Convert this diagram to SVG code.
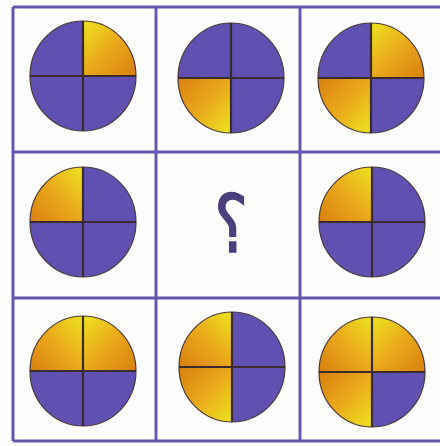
<svg xmlns="http://www.w3.org/2000/svg" width="440" height="446" viewBox="0 0 440 446">
<defs>
<style>
.grid{stroke:#6656ae;stroke-width:3;fill:none}
.p{fill:#5f50b2}
.div{stroke:#3a2c2c;stroke-width:2.2}
.rim{fill:none;stroke:#4a3a3a;stroke-width:1.2}
.q{font-family:"DejaVu Sans",sans-serif;font-weight:normal;fill:#4b3f7c;stroke:#4b3f7c;stroke-width:1.5}
</style>
<linearGradient id="gTR" x1="0" y1="0" x2="1" y2="1"><stop offset="0" stop-color="#ece41e"/><stop offset="0.5" stop-color="#eaa81c"/><stop offset="1" stop-color="#d8800e"/></linearGradient>
<linearGradient id="gTL" x1="1" y1="0" x2="0" y2="1"><stop offset="0" stop-color="#ece41e"/><stop offset="0.5" stop-color="#eaa81c"/><stop offset="1" stop-color="#d8800e"/></linearGradient>
<linearGradient id="gBL" x1="1" y1="1" x2="0" y2="0"><stop offset="0" stop-color="#ece41e"/><stop offset="0.5" stop-color="#eaa81c"/><stop offset="1" stop-color="#d8800e"/></linearGradient>
<linearGradient id="gBR" x1="0" y1="1" x2="1" y2="0"><stop offset="0" stop-color="#ece41e"/><stop offset="0.5" stop-color="#eaa81c"/><stop offset="1" stop-color="#d8800e"/></linearGradient>
<path id="qTL" d="M0,0 L-53,0 A53,55 0 0 1 0,-55 Z"/>
<path id="qTR" d="M0,0 L0,-55 A53,55 0 0 1 53,0 Z"/>
<path id="qBR" d="M0,0 L53,0 A53,55 0 0 1 0,55 Z"/>
<path id="qBL" d="M0,0 L0,55 A53,55 0 0 1 -53,0 Z"/>
<g id="frame">
<ellipse class="rim" cx="0" cy="0" rx="53" ry="55"/>
<line class="div" x1="-53" y1="0" x2="53" y2="0"/>
<line class="div" x1="0" y1="-55" x2="0" y2="55"/>
</g>
</defs>
<rect width="440" height="446" fill="#fdfdfb"/>
<g id="connectors">
<path class="grid" d="M13,7 H440 M13,152 H440 M13,298 H440 M13,441 H440 M13,7 V441 M156,7 V441 M300,7 V441"/>
</g>
<g id="cell1" transform="translate(83,76)">
<use href="#qTL" class="p"/><use href="#qTR" fill="url(#gTR)"/><use href="#qBL" class="p"/><use href="#qBR" class="p"/><use href="#frame"/>
</g>
<g id="cell2" transform="translate(231,78)">
<use href="#qTL" class="p"/><use href="#qTR" class="p"/><use href="#qBL" fill="url(#gBL)"/><use href="#qBR" class="p"/><use href="#frame"/>
</g>
<g id="cell3" transform="translate(371,78)">
<use href="#qTL" class="p"/><use href="#qTR" fill="url(#gTR)"/><use href="#qBL" fill="url(#gBL)"/><use href="#qBR" class="p"/><use href="#frame"/>
</g>
<g id="cell4" transform="translate(83,222)">
<use href="#qTL" fill="url(#gTL)"/><use href="#qTR" class="p"/><use href="#qBL" class="p"/><use href="#qBR" class="p"/><use href="#frame"/>
</g>
<g id="cell5" transform="translate(231,252) scale(0.8,1)">
<text class="q" x="0" y="0" font-size="80" text-anchor="middle">؟</text>
</g>
<g id="cell6" transform="translate(372,222)">
<use href="#qTL" fill="url(#gTL)"/><use href="#qTR" class="p"/><use href="#qBL" class="p"/><use href="#qBR" class="p"/><use href="#frame"/>
</g>
<g id="cell7" transform="translate(83,371)">
<use href="#qTL" fill="url(#gTL)"/><use href="#qTR" fill="url(#gTR)"/><use href="#qBL" class="p"/><use href="#qBR" class="p"/><use href="#frame"/>
</g>
<g id="cell8" transform="translate(232,367)">
<use href="#qTL" fill="url(#gTL)"/><use href="#qTR" class="p"/><use href="#qBL" fill="url(#gBL)"/><use href="#qBR" class="p"/><use href="#frame"/>
</g>
<g id="cell9" transform="translate(372,372)">
<use href="#qTL" fill="url(#gTL)"/><use href="#qTR" fill="url(#gTR)"/><use href="#qBL" fill="url(#gBL)"/><use href="#qBR" class="p"/><use href="#frame"/>
</g>
</svg>
